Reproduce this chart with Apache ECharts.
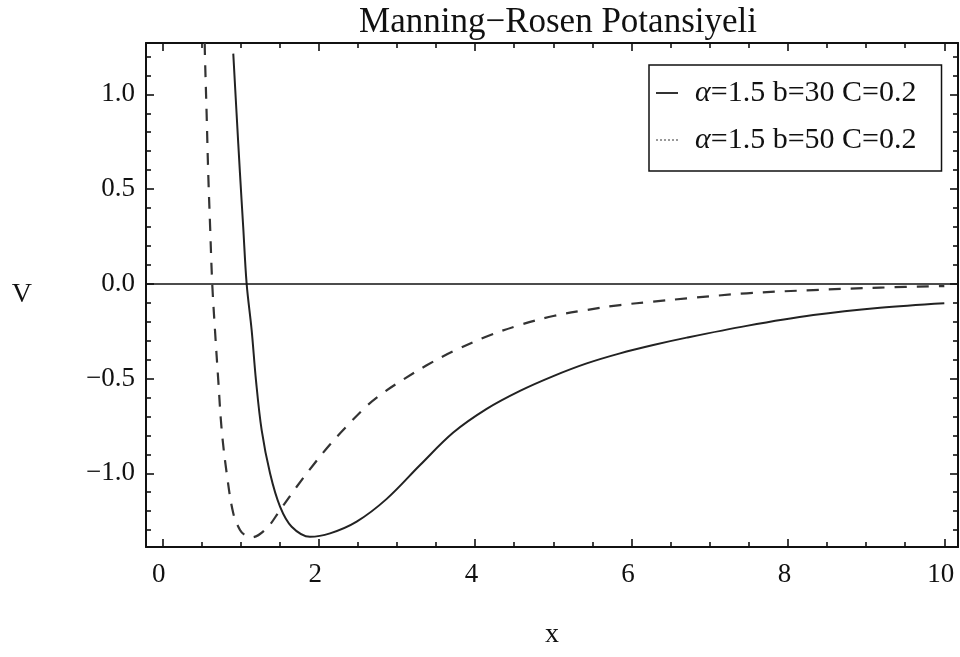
<!DOCTYPE html>
<html>
<head>
<meta charset="utf-8">
<script src="https://cdn.jsdelivr.net/npm/echarts@6/dist/echarts.min.js"></script>
<style>
  html, body { margin: 0; padding: 0; background: #fff; }
  #chart { width: 960px; height: 657px; }
  #err { position: absolute; left: 300px; top: 100px; font: 14px monospace; color: red; white-space: pre-wrap; width: 600px; }
</style>
</head>
<body>
<div id="chart"></div>
<div id="err"></div>
<script>
// Manning–Rosen potential, two values of b (alpha = 1.5, C = 0.2)
const seriesNames = ['α=1.5 b=30 C=0.2', 'α=1.5 b=50 C=0.2'];

// b = 30 (solid)
const solidX = [0.908, 0.95, 0.994, 1.035, 1.079, 1.143, 1.198, 1.271, 1.378, 1.506, 1.655, 1.889, 2.145, 2.486, 2.870, 3.3, 3.721, 4.148, 4.574, 5.0, 5.427, 5.853, 6.279, 6.706, 7.473, 8.325, 9.178, 10.0];
const solidV = [1.215, 0.9, 0.58, 0.3, 0.0, -0.244, -0.508, -0.772, -1.0, -1.176, -1.282, -1.335, -1.317, -1.255, -1.135, -0.955, -0.785, -0.66, -0.565, -0.487, -0.420, -0.367, -0.323, -0.284, -0.222, -0.165, -0.126, -0.102];

// b = 50 (dashed)
const dashedX = [0.543, 0.545, 0.567, 0.588, 0.612, 0.639, 0.674, 0.716, 0.760, 0.824, 0.908, 0.994, 1.06, 1.143, 1.335, 1.506, 1.719, 1.931, 2.145, 2.358, 2.614, 2.826, 3.082, 3.381, 3.721, 4.148, 4.574, 5.0, 5.427, 5.853, 6.279, 6.706, 7.473, 8.325, 9.178, 10.0];
const dashedV = [1.271, 1.215, 0.9, 0.58, 0.3, 0.0, -0.244, -0.508, -0.772, -1.0, -1.211, -1.299, -1.327, -1.338, -1.290, -1.194, -1.071, -0.956, -0.848, -0.752, -0.645, -0.575, -0.505, -0.430, -0.356, -0.278, -0.217, -0.170, -0.138, -0.112, -0.094, -0.077, -0.050, -0.033, -0.020, -0.012];

// frame ticks
const xMajorTicks = [0, 2, 4, 6, 8, 10];
const xMinorTicks = [0.5, 1, 1.5, 2.5, 3, 3.5, 4.5, 5, 5.5, 6.5, 7, 7.5, 8.5, 9, 9.5];
const yMajorTicks = [-1, -0.5, 0, 0.5, 1];
const yMinorTicks = [-1.3, -1.2, -1.1, -0.9, -0.8, -0.7, -0.6, -0.4, -0.3, -0.2, -0.1, 0.1, 0.2, 0.3, 0.4, 0.6, 0.7, 0.8, 0.9, 1.1, 1.2];

const X_MIN = -0.208, X_MAX = 10.175;
const Y_MIN = -1.389, Y_MAX = 1.271;

const FONT = 'Liberation Serif';
const INK = '#111';

const zip = (xs, ys) => xs.map((x, i) => [x, ys[i]]);

function xAxisDef(position, ticks, len, withLabels, withLine) {
  const ax = {
    type: 'value', position, min: X_MIN, max: X_MAX,
    axisLine: { show: withLine, onZero: false, lineStyle: { color: INK, width: 2 } },
    axisTick: { show: true, inside: true, length: len, customValues: ticks, lineStyle: { color: INK, width: 1.6 } },
    axisLabel: { show: false },
    splitLine: { show: false }
  };
  if (withLabels) {
    ax.axisLabel = {
      show: true, customValues: ticks, margin: 14,
      fontFamily: FONT, fontSize: 27, color: INK,
      padding: [0, 7, 0, 0],
      formatter: v => String(Math.round(v))
    };
    ax.name = 'x';
    ax.nameLocation = 'middle';
    ax.nameGap = 74;
    ax.nameTextStyle = { fontFamily: FONT, fontSize: 28, color: INK };
  }
  return ax;
}

function yAxisDef(position, ticks, len, withLabels, withLine) {
  const ax = {
    type: 'value', position, min: Y_MIN, max: Y_MAX,
    axisLine: { show: withLine, onZero: false, lineStyle: { color: INK, width: 2 } },
    axisTick: { show: true, inside: true, length: len, customValues: ticks, lineStyle: { color: INK, width: 1.6 } },
    axisLabel: { show: false },
    splitLine: { show: false }
  };
  if (withLabels) {
    ax.axisLabel = {
      show: true, customValues: ticks, margin: 11,
      fontFamily: FONT, fontSize: 27, color: INK,
      formatter: v => (v < 0 ? '\u2212' : '') + Math.abs(v).toFixed(1)
    };
    ax.name = 'V';
    ax.nameLocation = 'middle';
    ax.nameGap = 114;
    ax.nameRotate = 0;
    ax.nameTextStyle = { fontFamily: FONT, fontSize: 28, color: INK };
  }
  return ax;
}

try {
  const chart = echarts.init(document.getElementById('chart'), null, { renderer: 'canvas' });

  chart.setOption({
    animation: false,
    backgroundColor: '#fff',
    color: ['#222', '#333'],
    title: {
      text: 'Manning\u2212Rosen Potansiyeli',
      left: 553, top: 0, textAlign: 'center',
      textStyle: { fontFamily: FONT, fontSize: 35, fontWeight: 'normal', color: INK }
    },
    grid: { left: 146, top: 43, width: 812, height: 504 },
    legend: {
      show: true,
      orient: 'vertical',
      left: 649, top: 65,
      padding: [10, 25, 13, 6],
      itemGap: 11,
      itemWidth: 22, itemHeight: 14,
      backgroundColor: '#fff',
      borderColor: INK, borderWidth: 1.5,
      itemStyle: { opacity: 0 },
      data: [
        { name: seriesNames[0], lineStyle: { color: '#333', width: 2, type: 'solid' } },
        { name: seriesNames[1], lineStyle: { color: '#999', width: 2, type: 'dotted' } }
      ],
      formatter: name => '{g|}{a|α}{t|' + name.slice(1) + '}',
      textStyle: {
        fontFamily: FONT, fontSize: 30, color: INK, lineHeight: 36,
        rich: {
          g: { width: 12 },
          a: { fontFamily: FONT, fontSize: 30, fontStyle: 'italic', color: INK, lineHeight: 36 },
          t: { fontFamily: FONT, fontSize: 30, color: INK, lineHeight: 36 }
        }
      }
    },
    xAxis: [
      xAxisDef('bottom', xMajorTicks, 8, true, true),
      xAxisDef('bottom', xMinorTicks, 5, false, false),
      xAxisDef('top', xMajorTicks, 8, false, true),
      xAxisDef('top', xMinorTicks, 5, false, false)
    ],
    yAxis: [
      yAxisDef('left', yMajorTicks, 8, true, true),
      yAxisDef('left', yMinorTicks, 5, false, false),
      yAxisDef('right', yMajorTicks, 8, false, true),
      yAxisDef('right', yMinorTicks, 5, false, false)
    ],
    series: [
      {
        name: seriesNames[0], type: 'line', xAxisIndex: 0, yAxisIndex: 0,
        data: zip(solidX, solidV),
        showSymbol: false, symbol: 'none', smooth: 0.35,
        itemStyle: { color: '#222' },
        lineStyle: { color: '#222', width: 2 },
        markLine: {
          silent: true, symbol: ['none', 'none'], label: { show: false },
          lineStyle: { color: INK, width: 1.6, type: 'solid' },
          data: [{ yAxis: 0 }]
        },
        z: 3
      },
      {
        name: seriesNames[1], type: 'line', xAxisIndex: 0, yAxisIndex: 0,
        data: zip(dashedX, dashedV),
        showSymbol: false, symbol: 'none', smooth: 0.35,
        itemStyle: { color: '#333' },
        lineStyle: { color: '#333', width: 2.2, type: [12, 10] },
        z: 3
      }
    ]
  });
} catch (e) {
  document.getElementById('err').textContent = String(e && e.stack || e);
}
</script>
</body>
</html>
